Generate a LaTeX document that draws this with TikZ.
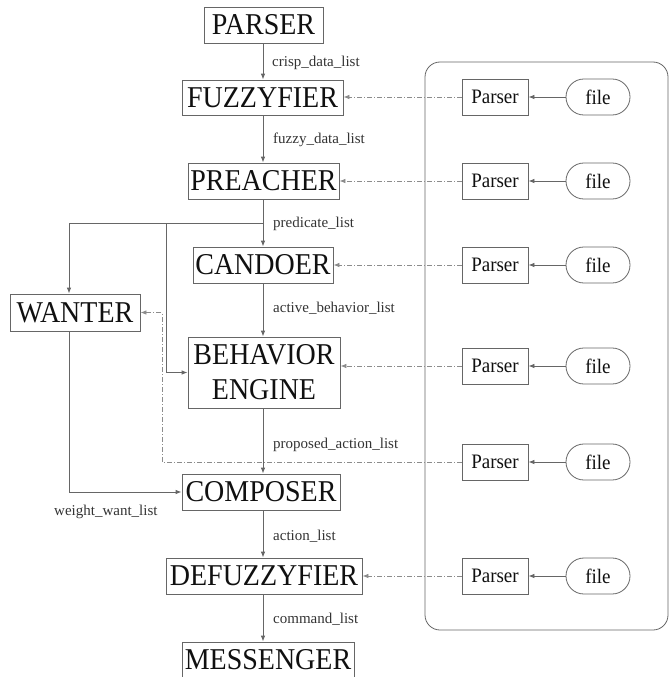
\documentclass[tikz,border=0pt]{standalone}
\usepackage{fontspec}
\usepackage{graphicx}
\setmainfont{Liberation Serif}
\usetikzlibrary{arrows.meta}
\definecolor{ln}{HTML}{666666}
\definecolor{dl}{HTML}{8C8C8C}
\definecolor{tx}{HTML}{101010}
\definecolor{lb}{HTML}{333333}
\newcommand\tallt[1]{\scalebox{1}[1.08]{#1}}
\begin{document}
\begin{tikzpicture}[x=1pt,y=-1pt,
  big/.style={draw=ln, line width=0.8pt, inner sep=0pt, text=tx, align=center,
    font=\fontsize{28}{35}\selectfont, minimum height=36pt},
  psr/.style={draw=ln, line width=0.8pt, inner sep=0pt, text=tx,
    font=\fontsize{19}{22}\selectfont, minimum width=66pt, minimum height=36pt},
  fil/.style={psr, rounded corners=17.9pt, minimum width=64pt},
  lab/.style={inner sep=0pt, text=lb, font=\fontsize{15}{17}\selectfont, anchor=west},
  arr/.style={draw=ln, line width=0.8pt, -{Latex[length=6pt,width=4.5pt]}},
  darr/.style={draw=dl, line width=0.8pt, dash pattern=on 5pt off 2pt on 1pt off 2pt,
    -{Latex[length=6pt,width=4.5pt]}},
  con/.style={draw=ln, line width=0.8pt}]
\useasboundingbox (0,0) rectangle (669,677);
% main column
\node[big, minimum width=119pt] (parser) at (263.5,25) {\tallt{PARSER}};
\node[big, minimum width=161pt, minimum height=35pt] (fuzz) at (262.5,97.5) {\tallt{FUZZYFIER}};
\node[big, minimum width=151pt] (preach) at (263.5,181) {\tallt{PREACHER}};
\node[big, minimum width=140pt] (cand) at (263,265) {\tallt{CANDOER}};
\node[big, minimum width=130pt, minimum height=37pt] (want) at (75,312.5) {\tallt{WANTER}};
\node[big, minimum width=152pt, minimum height=71pt] (beh) at (264,372.5) {\tallt{BEHAVIOR}\\\tallt{ENGINE}};
\node[big, minimum width=158pt] (comp) at (261,492) {\tallt{COMPOSER}};
\node[big, minimum width=196pt] (defuz) at (264,576) {\tallt{DEFUZZYFIER}};
\node[big, minimum width=172pt] (mess) at (268,660) {\tallt{MESSENGER}};
% helper coordinates
\coordinate (vx) at (263,0);
\coordinate (wx) at (69,0);
\coordinate (bx) at (166,0);
\coordinate (dx) at (162,0);
\coordinate (j) at (263,223);
% main flow
\draw[arr] (parser.south -| vx) -- (fuzz.north -| vx);
\draw[arr] (fuzz.south -| vx) -- (preach.north -| vx);
\draw[arr] (preach.south -| vx) -- (cand.north -| vx);
\draw[arr] (cand.south -| vx) -- (beh.north -| vx);
\draw[arr] (beh.south -| vx) -- (comp.north -| vx);
\draw[arr] (comp.south -| vx) -- (defuz.north -| vx);
\draw[arr] (defuz.south -| vx) -- (mess.north -| vx);
\draw[arr] (j) -- (j -| wx) -- (want.north -| wx);
\draw[arr] (j -| bx) |- (beh.west);
\draw[arr] (want.south -| wx) |- (comp.west);
% labels
\node[lab] (l1) at (272,63) {crisp\_data\_list};
\node[lab] (l2) at (273,140) {fuzzy\_data\_list};
\node[lab] (l3) at (273,224) {predicate\_list};
\node[lab] (l4) at (273,308) {active\_behavior\_list};
\node[lab] (l5) at (273,445) {proposed\_action\_list};
\node[lab] (l6) at (54,512) {weight\_want\_list};
\node[lab] (l7) at (273,536) {action\_list};
\node[lab] (l8) at (273,619) {command\_list};
% right container
\draw[con, rounded corners=15pt] (425,62) rectangle (668,630);
\foreach \i/\y in {1/97,2/181,3/265,4/366,5/462,6/576}{
  \node[psr] (p\i) at (495,\y) {\tallt{Parser}};
  \node[fil] (f\i) at (598,\y) {\tallt{file}};
  \draw[arr] (f\i.west) -- (p\i.east);
}
\draw[darr] (p1.west) -- (p1.west -| fuzz.east);
\draw[darr] (p2.west) -- (p2.west -| preach.east);
\draw[darr] (p3.west) -- (p3.west -| cand.east);
\draw[darr] (p4.west) -- (p4.west -| beh.east);
\draw[darr] (p5.west) -- (p5.west -| dx) -- (dx |- want.east) -- (want.east);
\draw[darr] (p6.west) -- (p6.west -| defuz.east);
\end{tikzpicture}
\end{document}
